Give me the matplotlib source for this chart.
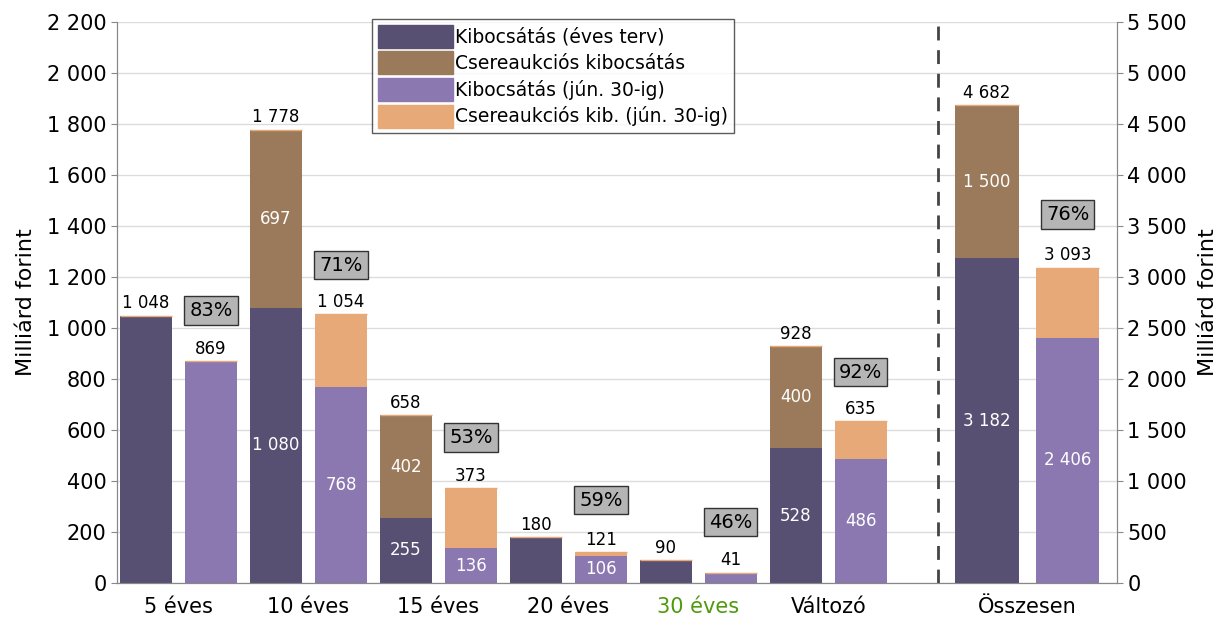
import matplotlib
matplotlib.use("Agg")
import matplotlib.pyplot as plt
from matplotlib.patches import Patch
import numpy as np

# adatok (milliárd forint)
categories = ["5 éves", "10 éves", "15 éves", "20 éves", "30 éves", "Változó", "Összesen"]
plan_kib = [1048, 1080, 255, 180, 90, 528, 3182]
plan_csere = [0, 697, 402, 0, 0, 400, 1500]
plan_total = [1048, 1778, 658, 180, 90, 928, 4682]
act_kib = [869, 768, 136, 106, 41, 486, 2406]
act_csere = [0, 286, 237, 15, 0, 149, 687]
act_total = [869, 1054, 373, 121, 41, 635, 3093]
ratio_labels = ["83%", "71%", "53%", "59%", "46%", "92%", "76%"]
ratio_ypos = [1070, 1247, 572, 325, 239, 827, 3610]   # hol ül a doboz (a saját tengelyen)
inner_shown_plan = [(False, False), (True, True), (True, True), (False, False),
                    (False, False), (True, True), (True, True)]
inner_shown_act = [(False, False), (True, False), (True, False), (True, False),
                   (False, False), (True, False), (True, False)]

C_KIB = "#575073"
C_CSERE = "#9b7a5b"
C_KIB2 = "#8b78b0"
C_CSERE2 = "#e8a978"
FONT = "DejaVu Sans"

def fmt(v):
    return f"{v:,}".replace(",", " ")

fig = plt.figure(figsize=(12.29, 6.21), dpi=100)
ax = fig.add_axes([117 / 1229, 1 - 583 / 621, 1000 / 1229, 561 / 621])
ax2 = ax.twinx()
plt.rcParams['font.family'] = FONT

xs = np.array([0, 1, 2, 3, 4, 5, 6.53])
offs = [0.25] * 6 + [0.31]
widths = [0.4] * 6 + [0.49]

for i in range(len(categories)):
    a = ax2 if i == 6 else ax
    w = widths[i]
    xp = xs[i] - offs[i]
    xa = xs[i] + offs[i]
    a.bar(xp, plan_kib[i], w, color=C_KIB, zorder=3)
    a.bar(xp, plan_csere[i], w, bottom=plan_kib[i], color=C_CSERE, zorder=3)
    a.bar(xa, act_kib[i], w, color=C_KIB2, zorder=3)
    a.bar(xa, act_csere[i], w, bottom=act_kib[i], color=C_CSERE2, zorder=3)
    # vékony narancs vonal a tetején
    a.hlines([plan_total[i], act_total[i]], [xp - w / 2, xa - w / 2], [xp + w / 2, xa + w / 2],
             color=C_CSERE2, lw=1.0, zorder=4)

    top = 5500 if i == 6 else 2200
    pad = top * 0.006
    a.text(xp, plan_total[i] + pad, fmt(plan_total[i]), ha="center", va="bottom", fontsize=12, zorder=5)
    a.text(xa, act_total[i] + pad, fmt(act_total[i]), ha="center", va="bottom", fontsize=12, zorder=5)

    if inner_shown_plan[i][0]:
        a.text(xp, plan_kib[i] / 2, fmt(plan_kib[i]), ha="center", va="center", color="white", fontsize=12, zorder=5)
    if inner_shown_plan[i][1]:
        a.text(xp, plan_kib[i] + plan_csere[i] / 2, fmt(plan_csere[i]), ha="center", va="center",
               color="white", fontsize=12, zorder=5)
    if inner_shown_act[i][0]:
        a.text(xa, act_kib[i] / 2, fmt(act_kib[i]), ha="center", va="center", color="white", fontsize=12, zorder=5)

    a.text(xa, ratio_ypos[i], ratio_labels[i], ha="center", va="center", fontsize=14, zorder=6,
           bbox=dict(boxstyle="square,pad=0.25", fc="#b5b5b5", ec="#333333", lw=1))

ax.set_xlim(-0.473, 7.22)
ax.set_ylim(0, 2200)
ax2.set_ylim(0, 5500)
ax.set_yticks(np.arange(0, 2201, 200))
ax2.set_yticks(np.arange(0, 5501, 500))
ax.yaxis.set_major_formatter(plt.FuncFormatter(lambda v, p: fmt(int(v))))
ax2.yaxis.set_major_formatter(plt.FuncFormatter(lambda v, p: fmt(int(v))))
ax.grid(axis="y", color="#dcdcdc", lw=1, zorder=0)
ax.set_axisbelow(True)

ax.set_xticks(xs)
ax.set_xticklabels(categories, fontsize=15)
ax.get_xticklabels()[4].set_color("#4e9a0c")
ax.tick_params(axis="x", length=0, pad=10)
ax.tick_params(axis="y", labelsize=15, length=4, color="#888888")
ax2.tick_params(axis="y", labelsize=15, length=4, color="#888888")
ax.set_ylabel("Milliárd forint", fontsize=16, labelpad=8)
ax2.set_ylabel("Milliárd forint", fontsize=16, labelpad=8)

for a in (ax, ax2):
    for s in ("left", "right", "bottom"):
        a.spines[s].set_color("#888888")
    a.spines["top"].set_visible(False)

ax.axvline(5.84, color="#444444", lw=2, ls=(0, (5, 3.5)), zorder=2)

handles = [Patch(color=C_KIB), Patch(color=C_CSERE), Patch(color=C_KIB2), Patch(color=C_CSERE2)]
labels = ["Kibocsátás (éves terv)", "Csereaukciós kibocsátás", "Kibocsátás (jún. 30-ig)",
          "Csereaukciós kib. (jún. 30-ig)"]
leg = ax.legend(handles, labels, loc="upper left", bbox_to_anchor=(255 / 1000, 1.005), fontsize=13.5,
                frameon=True, fancybox=False, edgecolor="#333333", handlelength=4, handleheight=1.5,
                handletextpad=0.15, labelspacing=0.2, borderpad=0.3, borderaxespad=0.0)
leg.get_frame().set_linewidth(1)
leg.set_zorder(10)

fig.savefig("out.png", dpi=100)
